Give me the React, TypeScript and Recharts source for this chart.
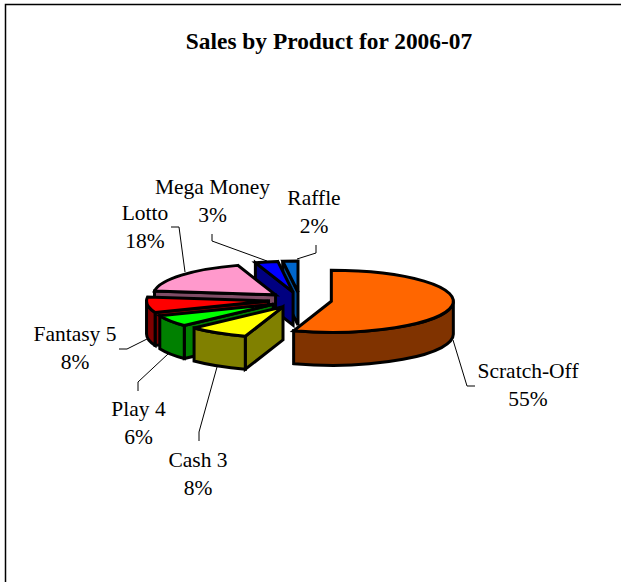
import React from "react";
import { PieChart, Pie } from "recharts";

const categories = ["Raffle", "Mega Money", "Lotto", "Fantasy 5", "Play 4", "Cash 3", "Scratch-Off"];
const shares = [2, 3, 18, 8, 6, 8, 55];
const topColors = ["#0066CC", "#0000FF", "#FF99CC", "#FF0000", "#00FF00", "#FFFF00", "#FF6600"];
const wallColors = ["#004C99", "#000080", "#804D66", "#800000", "#008000", "#808000", "#803300"];

const rows = categories.map((name, i) => ({ name, value: shares[i], fill: topColors[i], wall: wallColors[i] }));

// Layout of the tilted pie
const CX = 300;
const CY = 300;
const RX = 122;
const SQUASH = 31 / 122;
const DEPTH = 33;
const EXPLODE = 0.26;

// Hand-placed callouts: text centre x, first baseline y, leader polyline
const callouts: Record<string, { x: number; y: number; tail: number[][] }> = {
  Raffle: { x: 314, y: 205, tail: [[316, 245], [316, 253], [297, 259]] },
  "Mega Money": { x: 212.5, y: 194, tail: [[212, 234], [212, 241], [267, 261]] },
  Lotto: { x: 145, y: 220, tail: [[171, 227], [179, 227], [185, 272]] },
  "Fantasy 5": { x: 75, y: 341, tail: [[119, 349], [127, 349], [149, 338]] },
  "Play 4": { x: 138.5, y: 416, tail: [[138, 391], [138, 382], [168, 354]] },
  "Cash 3": { x: 198, y: 467, tail: [[199, 441], [199, 432], [217, 367]] },
  "Scratch-Off": { x: 528, y: 378, tail: [[475, 386], [467, 386], [453, 340]] },
};

const font = "'Liberation Serif', 'Times New Roman', serif";

function pt(cx: number, cy: number, r: number, deg: number): [number, number] {
  const a = (deg * Math.PI) / 180;
  return [cx + r * Math.cos(a), cy - r * SQUASH * Math.sin(a)];
}

function Slice3D(props: any) {
  const { startAngle, endAngle, cx, cy, outerRadius: r, fill, payload } = props;
  const wall = payload?.wall ?? props.wall;
  const lo = Math.min(startAngle, endAngle);
  const hi = Math.max(startAngle, endAngle);
  const mid = (lo + hi) / 2;
  const [ax, ay] = pt(cx, cy, r * EXPLODE, mid);
  const ry = r * SQUASH;
  const f = (v: number) => v.toFixed(2);
  const at = (deg: number) => pt(ax, ay, r, deg);
  const [sx, sy] = at(lo);
  const [ex, ey] = at(hi);
  const large = hi - lo > 180 ? 1 : 0;
  // lo..hi runs counter-clockwise on screen, which is sweep flag 0
  const top = `M${f(ax)} ${f(ay)}L${f(sx)} ${f(sy)}A${r} ${f(ry)} 0 ${large} 0 ${f(ex)} ${f(ey)}Z`;

  const quad = (deg: number) => {
    const [x, y] = at(deg);
    return `M${f(ax)} ${f(ay)}L${f(x)} ${f(y)}L${f(x)} ${f(y + DEPTH)}L${f(ax)} ${f(ay + DEPTH)}Z`;
  };
  const walls: string[] = [];
  // A radial wall shows only when it faces the viewer
  if (Math.cos((hi * Math.PI) / 180) < -0.001) walls.push(quad(hi));
  if (Math.cos((lo * Math.PI) / 180) > 0.001) walls.push(quad(lo));

  // Outer rim: only the part in the lower half of the ellipse
  let arcLo = -1;
  let arcHi = -1;
  for (const shift of [0, 360]) {
    const a = Math.max(lo, 180 + shift);
    const b = Math.min(hi, 360 + shift);
    if (b > a) {
      arcLo = a;
      arcHi = b;
    }
  }
  let rim = "";
  if (arcLo >= 0) {
    const [x1, y1] = at(arcLo);
    const [x2, y2] = at(arcHi);
    rim = `M${f(x1)} ${f(y1)}A${r} ${f(ry)} 0 0 0 ${f(x2)} ${f(y2)}L${f(x2)} ${f(y2 + DEPTH)}A${r} ${f(ry)} 0 0 1 ${f(x1)} ${f(y1 + DEPTH)}Z`;
  }
  const stroke = { stroke: "#000", strokeWidth: 3, strokeLinejoin: "miter" as const };
  return (
    <g>
      {walls.map((d, i) => (
        <path key={i} d={d} fill={wall} {...stroke} />
      ))}
      {rim && <path d={rim} fill={wall} {...stroke} />}
      <path d={top} fill={fill} {...stroke} />
    </g>
  );
}

function Callout(props: any) {
  const name = props.name ?? props.payload?.name;
  const c = callouts[name];
  if (!c) return null;
  const pct = Math.round(props.percent * 100);
  return (
    <g>
      <polyline points={c.tail.map((p) => p.join(",")).join(" ")} fill="none" stroke="#000" strokeWidth={1} />
      <text x={c.x} y={c.y} textAnchor="middle" fontFamily={font} fontSize={21.5} fill="#000">
        {name}
      </text>
      <text x={c.x} y={c.y + 28} textAnchor="middle" fontFamily={font} fontSize={21.5} fill="#000">
        {pct}%
      </text>
    </g>
  );
}

export default function App() {
  return (
    <div style={{ position: "absolute", left: 0, top: 0, width: 621, height: 582, overflow: "hidden", background: "#fff" }}>
      <PieChart width={621} height={582} margin={{ top: 0, right: 0, bottom: 0, left: 0 }}>
        <path d="M5.5 582V4.5H621" fill="none" stroke="#000" strokeWidth={1.5} />
        <text x={329} y={49} textAnchor="middle" fontFamily={font} fontSize={23.4} fontWeight="bold" fill="#000">
          Sales by Product for 2006-07
        </text>
        <Pie
          data={rows}
          dataKey="value"
          nameKey="name"
          cx={CX}
          cy={CY}
          outerRadius={RX}
          innerRadius={0}
          startAngle={90}
          endAngle={450}
          paddingAngle={0}
          isAnimationActive={false}
          shape={Slice3D}
          activeShape={Slice3D}
          inactiveShape={Slice3D}
          label={Callout}
          labelLine={false}
          stroke="none"
        />
      </PieChart>
    </div>
  );
}
